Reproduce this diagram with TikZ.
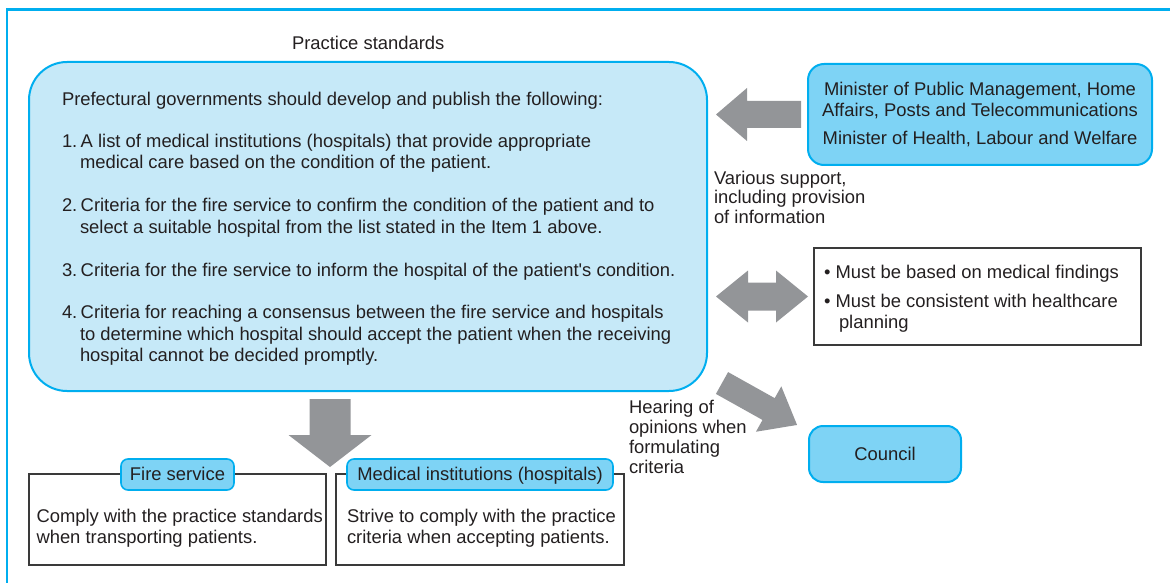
\documentclass[tikz,border=0pt]{standalone}
\usepackage{fontspec}
\setmainfont{Liberation Sans}
\definecolor{frameblue}{HTML}{00AEEF}
\definecolor{lightfill}{HTML}{C6E9F8}
\definecolor{midfill}{HTML}{7ED3F5}
\definecolor{arrowgrey}{HTML}{939598}
\definecolor{textcol}{HTML}{231F20}
\definecolor{boxline}{HTML}{3A3A3A}
% block arrow: #1 tail point, #2 angle, #3 length, #4 head length, #5 shaft half width, #6 head half width
\newcommand\myblockarrow[6]{%
  \fill[blockarrow, shift={#1}, rotate=#2]
    (0,-#5) -- ({#3-#4},-#5) -- ({#3-#4},-#6) -- (#3,0) -- ({#3-#4},#6) -- ({#3-#4},#5) -- (0,#5) -- cycle;}
\begin{document}
\begin{tikzpicture}[x=1pt,y=-1pt,
  every node/.style={font=\fontsize{18.4}{21.5}\selectfont, text=textcol, inner sep=0pt, outer sep=0pt},
  txt/.style={anchor=base west},
  ctxt/.style={anchor=base},
  bigbox/.style={draw=frameblue, line width=2pt, fill=lightfill, rounded corners=38pt},
  bluebox/.style={draw=frameblue, line width=2pt, fill=midfill, rounded corners=16pt},
  pill/.style={draw=frameblue, line width=1.6pt, fill=midfill, rounded corners=7pt, text height=12.5pt, text depth=0pt},
  plainbox/.style={draw=boxline, line width=1.1pt, fill=white},
  blockarrow/.style={fill=arrowgrey, draw=none},
]
\useasboundingbox (0,0) rectangle (1170,583);
% outer frame
\draw[frameblue, line width=2.5pt] (7,583) -- (7,9.5) -- (1170,9.5);

% practice standards
\node[txt] (pstitle) at (292,50) {Practice standards};
\node[bigbox, minimum width=678pt, minimum height=329pt] (big) at (368,226.5) {};
\node[txt] (l0) at (62,106) {Prefectural governments should develop and publish the following:};
\node[txt] (l1a) at (62,147) {1.\hspace{3.4pt}A list of medical institutions (hospitals) that provide appropriate};
\node[txt] (l1b) at (80,168.5) {medical care based on the condition of the patient.};
\node[txt] (l2a) at (62,211.5) {2.\hspace{3.4pt}Criteria for the fire service to confirm the condition of the patient and to};
\node[txt] (l2b) at (80,233) {select a suitable hospital from the list stated in the Item 1 above.};
\node[txt] (l3a) at (62,276) {3.\hspace{3.4pt}Criteria for the fire service to inform the hospital of the patient\textquotesingle s condition.};
\node[txt] (l4a) at (62,318.5) {4.\hspace{3.4pt}Criteria for reaching a consensus between the fire service and hospitals};
\node[txt] (l4b) at (80,340) {to determine which hospital should accept the patient when the receiving};
\node[txt] (l4c) at (80,361.5) {hospital cannot be decided promptly.};

% ministers
\node[bluebox, minimum width=344pt, minimum height=101pt] (min) at (980,114.5) {};
\node[ctxt] (m1) at (980,96) {Minister of Public Management, Home};
\node[ctxt] (m2) at (980,116.5) {Affairs, Posts and Telecommunications};
\node[ctxt] (m3) at (980,145) {Minister of Health, Labour and Welfare};
\myblockarrow{(801,114.5)}{180}{85}{31}{13.5}{26.5}
\node[txt] (v1) at (714,184) {Various support,};
\node[txt] (v2) at (714,204) {including provision};
\node[txt] (v3) at (714,223.5) {of information};

% bullet box
\node[plainbox, minimum width=327pt, minimum height=97pt] (bul) at (977.5,296.5) {};
\node[txt] (b1) at (824,278) {\textbullet\ Must be based on medical findings};
\node[txt] (b2) at (824,307) {\textbullet\ Must be consistent with healthcare};
\node[txt] (b3) at (839,328) {planning};
\fill[blockarrow] (716,296.5) -- (748,270.5) -- (748,282.5) -- (776,282.5) -- (776,270.5) -- (808,296.5)
  -- (776,322.5) -- (776,310.5) -- (748,310.5) -- (748,322.5) -- cycle;

% council
\node[bluebox, rounded corners=14pt, minimum width=152pt, minimum height=56pt, text height=13.5pt, text depth=0pt] (council) at (885,454) {Council};
\myblockarrow{(722,383)}{-29.2}{86}{32.6}{12.5}{26}
\node[txt] (h1) at (629,413) {Hearing of};
\node[txt] (h2) at (629,433) {opinions when};
\node[txt] (h3) at (629,453) {formulating};
\node[txt] (h4) at (629,473) {criteria};

% bottom boxes
\node[plainbox, minimum width=297pt, minimum height=91pt] (fire) at (177.5,519.5) {};
\node[plainbox, minimum width=288pt, minimum height=91pt] (med) at (480,519.5) {};
\node[pill, minimum width=113pt, minimum height=31pt] (firelabel) at (177.5,474.5) {Fire service};
\node[pill, minimum width=266pt, minimum height=31pt] (medlabel) at (480,474.5) {Medical institutions (hospitals)};
\node[txt] (f1) at (36.5,522) {Comply with the practice standards};
\node[txt] (f2) at (36.5,543) {when transporting patients.};
\node[txt] (s1) at (347,522) {Strive to comply with the practice};
\node[txt] (s2) at (347,543) {criteria when accepting patients.};
\myblockarrow{(330,399)}{-90}{68}{32}{20.5}{41.5}
\end{tikzpicture}
\end{document}
